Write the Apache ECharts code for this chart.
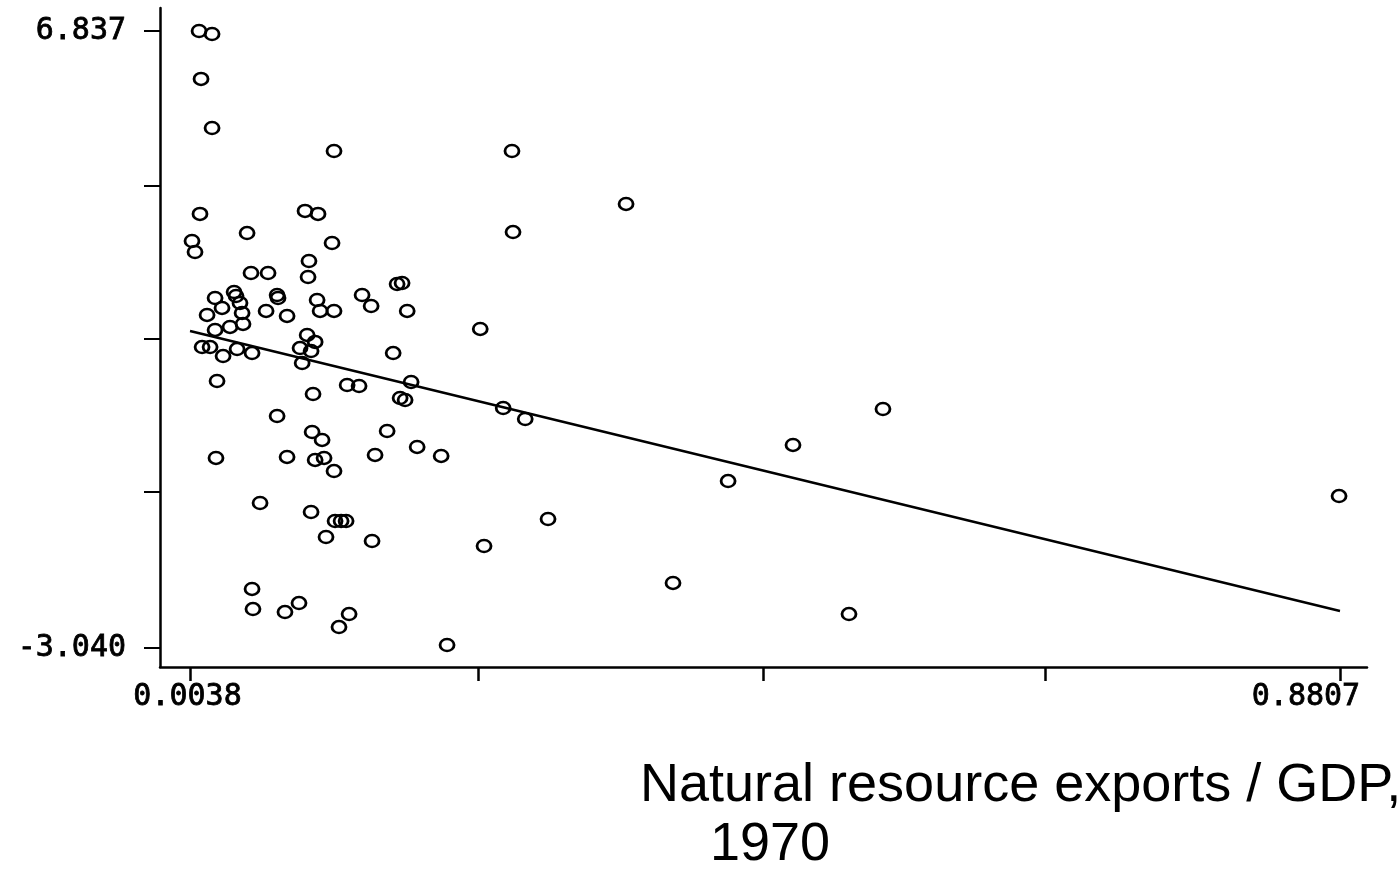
<!DOCTYPE html>
<html>
<head>
<meta charset="utf-8">
<script src="https://cdn.jsdelivr.net/npm/echarts@6/dist/echarts.min.js"></script>
<style>
    html, body { margin: 0; padding: 0; background: #fff; }
    #chart { width: 1398px; height: 869px; }
</style>
</head>
<body>
<div id="chart"></div>
<script>
    // resource exports / GDP 1970 (x) against growth (y)
    var exportShare = [
        0.0107, 0.0206, 0.0122, 0.0206, 0.1136, 0.2493, 0.3363, 0.0114, 0.0915, 0.1014,
        0.0473, 0.0053, 0.1121, 0.2501, 0.0076, 0.0945, 0.0503, 0.0633, 0.0938, 0.1617,
        0.1655, 0.0374, 0.0389, 0.0229, 0.0702, 0.0709, 0.1007, 0.1350, 0.1419, 0.0419,
        0.0282, 0.0618, 0.0778, 0.1030, 0.1136, 0.1694, 0.0168, 0.0435, 0.0442, 0.0343,
        0.0229, 0.2251, 0.0931, 0.0992, 0.0130, 0.0191, 0.0397, 0.0511, 0.0290, 0.0877,
        0.0961, 0.0893, 0.1587, 0.0244, 0.0976, 0.1236, 0.1327, 0.1724, 0.1640, 0.1678,
        0.2426, 0.2594, 0.5322, 0.0702, 0.0969, 0.1045, 0.1541, 0.1770, 0.1953, 0.4636,
        0.1449, 0.0236, 0.0778, 0.0992, 0.1060, 0.1136, 0.4141, 0.8800, 0.0572, 0.0961,
        0.1144, 0.1190, 0.1228, 0.2768, 0.1075, 0.1426, 0.2280, 0.3721, 0.0511, 0.0518,
        0.0762, 0.0869, 0.1251, 0.1174, 0.5063, 0.1998
    ];
    var growth = [
        6.837, 6.789, 6.069, 5.284, 4.916, 4.916, 4.068, 3.908, 3.956, 3.908,
        3.603, 3.475, 3.443, 3.619, 3.299, 3.155, 2.963, 2.963, 2.899, 2.787,
        2.803, 2.659, 2.595, 2.563, 2.611, 2.563, 2.531, 2.611, 2.435, 2.483,
        2.403, 2.355, 2.275, 2.355, 2.355, 2.355, 2.291, 2.323, 2.147, 2.099,
        2.051, 2.067, 1.971, 1.859, 1.778, 1.778, 1.746, 1.682, 1.634, 1.762,
        1.714, 1.522, 1.682, 1.234, 1.026, 1.170, 1.154, 1.218, 0.962, 0.930,
        0.802, 0.626, 0.786, 0.674, 0.418, 0.290, 0.434, 0.178, 0.034, 0.210,
        0.050, 0.002, 0.018, -0.030, 0.002, -0.207, -0.367, -0.607, -0.719, -0.863,
        -1.007, -1.007, -1.007, -0.975, -1.263, -1.327, -1.407, -1.999, -2.095, -2.416,
        -2.464, -2.320, -2.496, -2.704, -2.496, -2.992
    ];

    // fitted line end points
    var fitX = [0.0038, 0.8807];
    var fitY = [2.035, -2.447];

    var xTicks = [0.0038, 0.2234, 0.4410, 0.6562, 0.8807];
    var xLabels = [0.0038, 0.8807];
    var yTicks = [-3.040, -0.543, 1.906, 4.356, 6.837];
    var yLabels = [-3.040, 6.837];

    var points = exportShare.map(function (x, i) {
        return [x, growth[i]];
    });
    var fitLine = fitX.map(function (x, i) {
        return [x, fitY[i]];
    });

    var monoFont = '"DejaVu Sans Mono", "Liberation Mono", monospace';

    var myChart = echarts.init(document.getElementById('chart'));
    var option = {
        animation: false,
        backgroundColor: '#fff',
        grid: {
            left: 160,
            right: 31,
            top: 8,
            bottom: 202
        },
        xAxis: {
            type: 'value',
            min: -0.0191,
            max: 0.9013,
            splitLine: {show: false},
            axisLine: {
                show: true,
                onZero: false,
                lineStyle: {color: '#000', width: 2.5}
            },
            axisTick: {
                show: true,
                length: 14,
                customValues: xTicks,
                lineStyle: {color: '#000', width: 2.5}
            },
            axisLabel: {
                customValues: xLabels,
                margin: 15,
                color: '#000',
                formatter: function (v) {
                    if (v === xLabels[xLabels.length - 1]) {
                        return '{r|' + v.toFixed(4) + '}';
                    }
                    return '{l|' + v.toFixed(4) + '}';
                },
                rich: {
                    l: {
                        fontFamily: monoFont, fontSize: 30, color: '#000',
                        textBorderColor: '#000', textBorderWidth: 0.8,
                        padding: [0, 5, 0, 0]
                    },
                    r: {
                        fontFamily: monoFont, fontSize: 30, color: '#000',
                        textBorderColor: '#000', textBorderWidth: 0.8,
                        padding: [0, 68, 0, 0]
                    }
                }
            }
        },
        yAxis: {
            type: 'value',
            min: -3.344,
            max: 7.205,
            splitLine: {show: false},
            axisLine: {
                show: true,
                onZero: false,
                lineStyle: {color: '#000', width: 2.5}
            },
            axisTick: {
                show: true,
                length: 16,
                customValues: yTicks,
                lineStyle: {color: '#000', width: 2}
            },
            axisLabel: {
                customValues: yLabels,
                margin: 34,
                color: '#000',
                fontFamily: monoFont,
                fontSize: 30,
                textBorderColor: '#000',
                textBorderWidth: 0.8,
                padding: [4, 0, 0, 0],
                formatter: function (v) {
                    return v.toFixed(3);
                }
            }
        },
        graphic: [
            {
                type: 'text',
                left: 640,
                top: 759,
                style: {
                    text: 'Natural resource exports / GDP,',
                    fontFamily: '"Liberation Sans", Arial, sans-serif',
                    fontSize: 54,
                    fill: '#000'
                }
            },
            {
                type: 'text',
                left: 710,
                top: 818,
                style: {
                    text: '1970',
                    fontFamily: '"Liberation Sans", Arial, sans-serif',
                    fontSize: 54,
                    fill: '#000'
                }
            }
        ],
        series: [
            {
                name: 'fit',
                type: 'line',
                data: fitLine,
                symbol: 'none',
                silent: true,
                lineStyle: {color: '#000', width: 2.5}
            },
            {
                name: 'countries',
                type: 'scatter',
                data: points,
                symbol: 'circle',
                symbolSize: [14, 12],
                itemStyle: {
                    color: 'rgba(0,0,0,0)',
                    borderColor: '#000',
                    borderWidth: 2.6,
                    opacity: 1
                }
            }
        ]
    };
    myChart.setOption(option);
</script>
</body>
</html>
